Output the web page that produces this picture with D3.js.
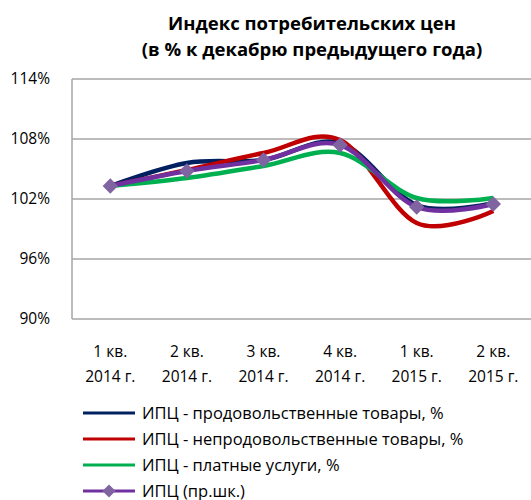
<!DOCTYPE html>
<html><head><meta charset="utf-8">
<script src="https://cdn.jsdelivr.net/npm/d3@7/dist/d3.min.js"></script>
<style>body{margin:0;background:#fff}svg{display:block}text{font-family:"Open Sans",sans-serif;fill:#000}</style>
</head><body><svg id="c" width="531" height="500"></svg>
<script>
const categories = [["1 кв.","2014 г."],["2 кв.","2014 г."],["3 кв.","2014 г."],["4 кв.","2014 г."],["1 кв.","2015 г."],["2 кв.","2015 г."]];
const food = [103.3, 105.6, 105.9, 107.6, 101.4, 101.6];
const nonfood = [103.3, 104.9, 106.6, 107.9, 99.6, 100.8];
const services = [103.3, 104.1, 105.3, 106.6, 102.1, 102.1];
const cpi = [103.3, 104.8, 105.9, 107.4, 101.2, 101.5];
const yTicks = [90, 96, 102, 108, 114];
const seriesNames = ["ИПЦ - продовольственные товары, %","ИПЦ - непродовольственные товары, %","ИПЦ - платные услуги, %","ИПЦ (пр.шк.)"];
const colors = ["#002060","#C00000","#00B050","#7030A0"];
const series = [food, nonfood, services, cpi];

const svg = d3.select("#c");
const L = 72, R = 531, T = 79, B = 319;
const x = d3.scaleBand().domain(d3.range(categories.length)).range([L, L + 6*76.6]);
const y = d3.scaleLinear().domain([90,114]).range([B, T]);

svg.append("text").attr("x",312).attr("y",30).attr("text-anchor","middle").attr("font-weight","bold").attr("font-size",18.5).text("Индекс потребительских цен");
svg.append("text").attr("x",312).attr("y",56).attr("text-anchor","middle").attr("font-weight","bold").attr("font-size",18.5).text("(в % к декабрю предыдущего года)");

svg.append("g").selectAll("line").data(yTicks).join("line")
  .attr("x1",L).attr("x2",R).attr("y1",d=>y(d)).attr("y2",d=>y(d))
  .attr("stroke","#A6A6A6").attr("stroke-width",1.5);
svg.append("line").attr("x1",L).attr("x2",L).attr("y1",T).attr("y2",B).attr("stroke","#A6A6A6").attr("stroke-width",1.5);

svg.append("g").selectAll("text").data(yTicks).join("text")
  .attr("x",50).attr("y",d=>y(d)+5).attr("text-anchor","end").attr("font-size",15.5).text(d=>d+"%");

const xl = svg.append("g").selectAll("text").data(categories).join("text")
  .attr("text-anchor","middle").attr("font-size",15.5);
xl.append("tspan").attr("x",(d,i)=>x(i)+x.bandwidth()/2).attr("y",357).text(d=>d[0]);
xl.append("tspan").attr("x",(d,i)=>x(i)+x.bandwidth()/2).attr("y",382).text(d=>d[1]);

const line = d3.line().x((d,i)=>x(i)+x.bandwidth()/2).y(d=>y(d)).curve(d3.curveCardinal);
svg.append("g").selectAll("path").data(series).join("path")
  .attr("d",line).attr("fill","none").attr("stroke",(d,i)=>colors[i]).attr("stroke-width",4.5).attr("stroke-linejoin","round");

const diamond = d3.symbol().type(d3.symbolDiamond2).size(150);
svg.append("g").selectAll("path").data(cpi).join("path")
  .attr("transform",(d,i)=>`translate(${x(i)+x.bandwidth()/2},${y(d)})`)
  .attr("d",diamond).attr("fill","#8064A2");

const lg = svg.append("g").selectAll("g").data(seriesNames).join("g")
  .attr("transform",(d,i)=>`translate(83,${413+i*26})`);
lg.append("line").attr("x1",0).attr("x2",52).attr("stroke",(d,i)=>colors[i]).attr("stroke-width",3);
lg.filter((d,i)=>i===3).append("path").attr("transform","translate(26,0)").attr("d",d3.symbol().type(d3.symbolDiamond2).size(110)).attr("fill","#8064A2");
lg.append("text").attr("x",59).attr("y",5.5).attr("font-size",16.5).text(d=>d);
</script></body></html>
